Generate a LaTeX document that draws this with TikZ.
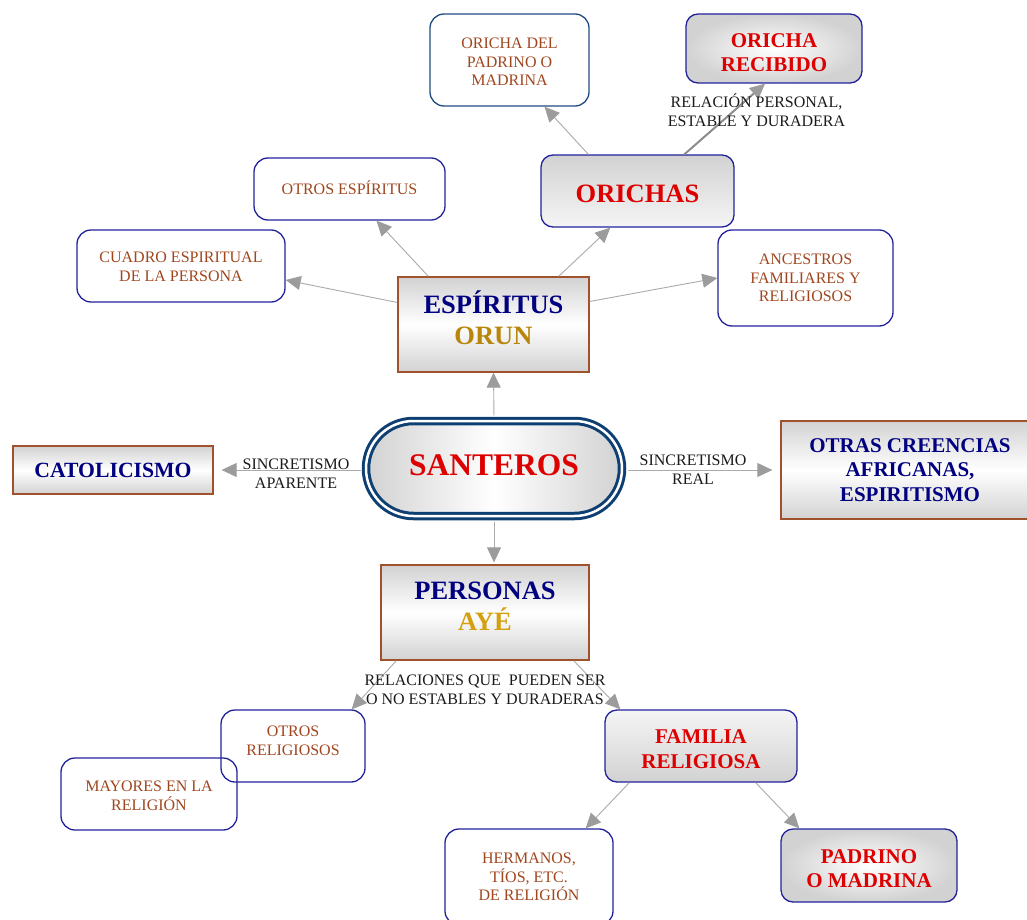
\documentclass[tikz,border=0pt]{standalone}
\usepackage{fontspec}
\setmainfont{Liberation Serif}
\usetikzlibrary{arrows.meta,calc,shapes.misc}

\definecolor{navytxt}{HTML}{000080}
\definecolor{redtxt}{HTML}{DD0000}
\definecolor{browntxt}{HTML}{A0461E}
\definecolor{goldA}{HTML}{B8860B}
\definecolor{goldB}{HTML}{D4A010}
\definecolor{boxblue}{HTML}{22229A}
\definecolor{boxsteel}{HTML}{1E4A80}
\definecolor{boxbrown}{HTML}{A0522D}
\definecolor{ringblue}{HTML}{0E3F72}
\definecolor{linegray}{HTML}{AAAAAA}
\definecolor{headgray}{HTML}{9C9C9C}
\definecolor{shadegray}{HTML}{D2D2D2}
\definecolor{labeltxt}{HTML}{1A1A1A}

\newcommand\fsSmall{\fontsize{16}{18.6}\selectfont}
\newcommand\fsLabel{\fontsize{16}{19}\selectfont}
\newcommand\fsMid{\fontsize{21}{24.5}\selectfont\bfseries}
\newcommand\fsBig{\fontsize{26.5}{31}\selectfont\bfseries}
\newcommand\fsHuge{\fontsize{31.5}{36}\selectfont\bfseries}

\tikzset{
  every node/.style={inner sep=0pt, align=center},
  whitebox/.style={draw=boxblue, line width=1.3pt, rounded corners=14pt},
  greybox/.style={draw=boxblue, line width=1.3pt, rounded corners=12pt},
  rectbox/.style={draw=boxbrown, line width=1.3pt, top color=shadegray,
    bottom color=shadegray, middle color=white},
  smalltext/.style={text=browntxt, font=\fsSmall},
  redtext/.style={text=redtxt, font=\fsMid},
  lbl/.style={text=labeltxt, font=\fsLabel},
  conn/.style={draw=linegray, line width=0.9pt,
    -{Triangle[length=15pt,width=14pt,fill=headgray,color=headgray]}},
  strong/.style={conn, draw=headgray!90!black, line width=2pt},
}

\begin{document}
\begin{tikzpicture}[x=1pt,y=-1pt]
\useasboundingbox (0,0) rectangle (1027,920);

% ---- boxes ----
% upper branch: spirits and orishas
\node[whitebox, draw=boxsteel, minimum width=159, minimum height=92] (oddel) at (509.5,60) {};
\node[greybox, inner color=white, outer color=shadegray, minimum width=176, minimum height=69] (orec) at (774,48.5) {};
\node[whitebox, minimum width=191, minimum height=62] (otrosesp) at (349.5,189) {};
\node[greybox, top color=shadegray, bottom color=white!96!black, minimum width=193, minimum height=72] (orichas) at (637.5,191) {};
\node[whitebox, minimum width=208, minimum height=72] (cuadro) at (181,266) {};
\node[whitebox, minimum width=175, minimum height=96] (ancestros) at (805.5,278) {};
\node[rectbox, minimum width=191, minimum height=95] (esp) at (493.5,324.5) {};

% centre
\node[rounded rectangle, draw=ringblue, double=white, double distance=2.5pt, line width=3pt,
  left color=shadegray, right color=shadegray, middle color=white,
  minimum width=256, minimum height=95] (santeros) at (494,468.5) {};
\node[rectbox, minimum width=200, minimum height=48] (catol) at (113,470) {};
\node[rectbox, minimum width=258, minimum height=98] (otras) at (910,470) {};

% lower branch: people
\node[rectbox, minimum width=208, minimum height=95] (personas) at (485,612.5) {};
\node[whitebox, minimum width=144, minimum height=72] (otrosrel) at (293,746) {};
\node[whitebox, minimum width=176, minimum height=72] (mayores) at (149,794) {};
\node[greybox, top color=white!96!black, bottom color=shadegray, minimum width=192, minimum height=72] (familia) at (701,746) {};
\node[whitebox, minimum width=168, minimum height=96] (hermanos) at (529,877) {};
\node[greybox, inner color=white, outer color=shadegray, minimum width=176, minimum height=73] (padrino) at (869,865.5) {};

% ---- box texts ----
\node[smalltext] (oddel-t) at ($(oddel)+(0,2)$) {ORICHA DEL\\PADRINO O\\MADRINA};
\node[redtext] (orec-t) at ($(orec)+(0,4)$) {ORICHA\\RECIBIDO};
\node[smalltext] (otrosesp-t) at ($(otrosesp)+(0,-1)$) {OTROS ESPÍRITUS};
\node[redtext, font=\fsBig] (orichas-t) at ($(orichas)+(0,3)$) {ORICHAS};
\node[smalltext] (cuadro-t) at ($(cuadro)+(0,1)$) {CUADRO ESPIRITUAL\\DE LA PERSONA};
\node[smalltext] (ancestros-t) at (ancestros) {ANCESTROS\\FAMILIARES Y\\RELIGIOSOS};
\node[font=\fsBig] (esp-t) at ($(esp)+(0,-7)$) {\textcolor{navytxt}{ESPÍRITUS}\\\textcolor{goldA}{ORUN}};
\node[text=redtxt, font=\fsHuge] (santeros-t) at ($(santeros)+(0,-3)$) {SANTEROS};
\node[text=navytxt, font=\fsMid, font=\fontsize{21.7}{24.5}\selectfont\bfseries] (catol-t) at (catol) {CATOLICISMO};
\node[text=navytxt, font=\fsMid] (otras-t) at (otras) {OTRAS CREENCIAS\\AFRICANAS,\\ESPIRITISMO};
\node[font=\fsBig] (personas-t) at ($(personas)+(0,-6)$) {\textcolor{navytxt}{PERSONAS}\\\textcolor{goldB}{AYÉ}};
\node[smalltext] (otrosrel-t) at ($(otrosrel)+(0,-5.5)$) {OTROS\\RELIGIOSOS};
\node[smalltext] (mayores-t) at ($(mayores)+(0,2)$) {MAYORES EN LA\\RELIGIÓN};
\node[redtext] (familia-t) at ($(familia)+(0,3)$) {FAMILIA\\RELIGIOSA};
\node[smalltext] (hermanos-t) at (hermanos) {HERMANOS,\\TÍOS, ETC.\\DE RELIGIÓN};
\node[redtext] (padrino-t) at ($(padrino)+(0,3)$) {PADRINO\\O MADRINA};

% ---- connectors ----
\draw[conn, shorten <=4pt] (santeros.north) -- (esp.south);
\draw[conn, shorten <=4pt, shorten >=2pt] (santeros.south) -- (santeros.south |- personas.north);
\draw[conn, shorten <=4pt, shorten >=8pt] (santeros.west |- catol.east) -- (catol.east);
\draw[conn, shorten <=4pt, shorten >=8pt] (santeros.east |- otras.west) -- (otras.west);

\draw[conn] ($(esp.west)+(0,-22)$) -- ($(cuadro.east)+(0,14)$);
\draw[conn] ($(esp.north west)+(31,0)$) -- ($(otrosesp.south)+(27,0)$);
\draw[conn] ($(esp.north east)+(-31,0)$) -- ($(orichas.south west)+(70,0)$);
\draw[conn] ($(esp.east)+(0,-23)$) -- (ancestros.west);

\draw[conn] ($(orichas.north west)+(48,0)$) -- ($(oddel.south)+(35,0)$);
\draw[strong] ($(orichas.north west)+(144,0)$) -- ($(orec.south)+(-9,0)$);

\draw[conn] ($(personas.south west)+(16,0)$) -- ($(otrosrel.north east)+(-14,0)$);
\draw[conn] ($(personas.south east)+(-16,0)$) -- ($(familia.north west)+(16,0)$);
\draw[conn] ($(familia.south west)+(25,0)$) -- ($(hermanos.north east)+(-28,0)$);
\draw[conn] ($(familia.south east)+(-42,0)$) -- ($(padrino.north west)+(19,0)$);

% ---- connector labels ----
\node[lbl] (lapar) at (296,473.5) {SINCRETISMO\\APARENTE};
\node[lbl] (lreal) at (693,469.5) {SINCRETISMO\\REAL};
\node[lbl] (lrel) at (756.5,110.5) {RELACIÓN PERSONAL,\\ESTABLE Y DURADERA};
\node[lbl] (lpers) at (485,689.5) {RELACIONES QUE\ \ PUEDEN SER\\O NO ESTABLES Y DURADERAS};
\end{tikzpicture}
\end{document}
